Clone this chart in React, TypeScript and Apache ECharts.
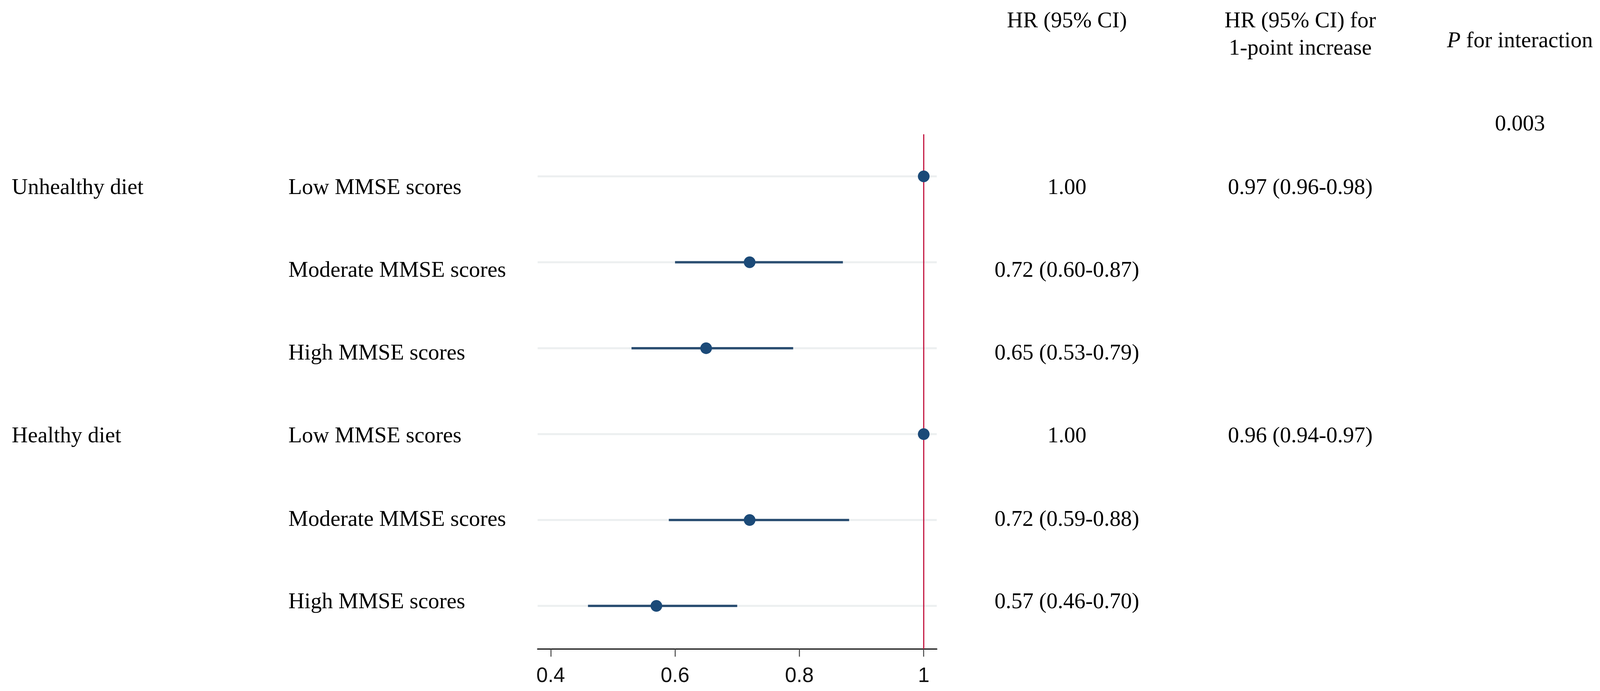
import React, { useEffect, useRef } from "react";
import * as echarts from "echarts";

// ---- data ----
const groups = ["Unhealthy diet", "Healthy diet"];
const subgroups = [
  "Low MMSE scores",
  "Moderate MMSE scores",
  "High MMSE scores",
  "Low MMSE scores",
  "Moderate MMSE scores",
  "High MMSE scores",
];
const hrValues = [1.0, 0.72, 0.65, 1.0, 0.72, 0.57];
const ciLow = [1.0, 0.6, 0.53, 1.0, 0.59, 0.46];
const ciHigh = [1.0, 0.87, 0.79, 1.0, 0.88, 0.7];
const hrText = ["1.00", "0.72 (0.60-0.87)", "0.65 (0.53-0.79)", "1.00", "0.72 (0.59-0.88)", "0.57 (0.46-0.70)"];
const perPointText = ["0.97 (0.96-0.98)", "", "", "0.96 (0.94-0.97)", "", ""];
const pInteraction = "0.003";
const xTicks = [0.4, 0.6, 0.8, 1];
const refValue = 1;

// ---- layout (reference pixel space 4217 x 1770) ----
const REF_W = 4217;
const H = 1770;
const X_MIN = 0.379;
const X_MAX = 1.021;
const Y_MIN = -0.49;
const Y_MAX = 5.5;
const SERIF = "'Liberation Serif', 'Times New Roman', serif";
const SANS = "'Liberation Sans', Arial, sans-serif";
const FS = 59;
const TICK_FS = 55;
const textRowY = [477, 689, 901, 1113, 1327, 1538];
const groupRowIdx = [0, 3];
const COL_GROUP = 31;
const COL_SUB = 760;
const COL_HR = 2812;
const COL_PP = 3427;
const COL_P = 4006;
const GRID_LEFT = 1417;
const GRID_RIGHT = 2469;
const GRID_TOP = 344;
const GRID_BOTTOM = 1662;

export default function App() {
  const ref = useRef<HTMLDivElement>(null);
  const viewW = Math.min(REF_W, typeof window !== "undefined" ? window.innerWidth || REF_W : REF_W);
  const sx = viewW / REF_W;

  useEffect(() => {
    if (!ref.current) return;
    const chart = echarts.init(ref.current, null, { renderer: "svg" });
    const fs = Math.round(FS * sx);

    const txt = (x: number, y: number, text: string, align: string) => ({
      type: "text",
      x: x * sx,
      y,
      style: {
        text,
        fill: "#000",
        fontSize: fs,
        fontFamily: SERIF,
        align,
        verticalAlign: "middle",
      },
    });

    const graphics: any[] = [];
    groups.forEach((g, i) => graphics.push(txt(COL_GROUP, textRowY[groupRowIdx[i]], g, "left")));
    subgroups.forEach((s, i) => graphics.push(txt(COL_SUB, textRowY[i], s, "left")));
    hrText.forEach((s, i) => graphics.push(txt(COL_HR, textRowY[i], s, "center")));
    perPointText.forEach((s, i) => {
      if (s) graphics.push(txt(COL_PP, textRowY[i], s, "center"));
    });
    graphics.push(txt(COL_HR, 50, "HR (95% CI)", "center"));
    graphics.push(txt(COL_PP, 50, "HR (95% CI) for", "center"));
    graphics.push(txt(COL_PP, 120, "1-point increase", "center"));
    graphics.push({
      type: "text",
      x: COL_P * sx,
      y: 101,
      style: {
        text: "{i|P} for interaction",
        fill: "#000",
        fontSize: fs,
        fontFamily: SERIF,
        align: "center",
        verticalAlign: "middle",
        rich: {
          i: { fontStyle: "italic", fontSize: fs, fontFamily: SERIF, fill: "#000" },
        },
      },
    });
    graphics.push(txt(COL_P, 314, pInteraction, "center"));

    const rowIdx = hrValues.map((_, i) => i);

    chart.setOption({
      animation: false,
      backgroundColor: "#fff",
      grid: {
        left: GRID_LEFT * sx,
        top: GRID_TOP,
        width: (GRID_RIGHT - GRID_LEFT) * sx,
        height: GRID_BOTTOM - GRID_TOP,
        containLabel: false,
      },
      xAxis: {
        type: "value",
        min: X_MIN,
        max: X_MAX,
        axisLine: { show: true, onZero: false, lineStyle: { color: "#111", width: 3 } },
        axisTick: {
          show: true,
          length: 20,
          lineStyle: { color: "#444", width: 2.5 },
          customValues: xTicks,
        },
        axisLabel: {
          show: true,
          customValues: xTicks,
          margin: 40,
          fontSize: Math.round(TICK_FS * sx),
          fontFamily: SANS,
          color: "#111",
          formatter: (v: number) => String(Math.round(v * 10) / 10),
        },
        splitLine: { show: false },
      },
      yAxis: {
        type: "value",
        min: Y_MIN,
        max: Y_MAX,
        inverse: true,
        show: false,
        splitLine: { show: false },
      },
      graphic: graphics,
      series: [
        {
          type: "custom",
          z: 1,
          silent: true,
          data: rowIdx.map((r) => [r, ciLow[r], ciHigh[r]]),
          encode: { x: [1, 2], y: 0 },
          renderItem: (params: any, api: any) => {
            const r = api.value(0);
            const a = api.coord([X_MIN, r]);
            const b = api.coord([X_MAX, r]);
            const lo = api.coord([api.value(1), r]);
            const hi = api.coord([api.value(2), r]);
            return {
              type: "group",
              children: [
                {
                  type: "line",
                  shape: { x1: a[0], y1: a[1], x2: b[0], y2: b[1] },
                  style: { stroke: "#eceff0", lineWidth: 5 },
                },
                {
                  type: "line",
                  shape: { x1: lo[0], y1: lo[1], x2: hi[0], y2: hi[1] },
                  style: { stroke: "#2c4f72", lineWidth: 6 },
                },
              ],
            };
          },
        },
        {
          type: "custom",
          z: 2,
          silent: true,
          data: [[refValue]],
          encode: { x: 0 },
          renderItem: (params: any, api: any) => {
            const t = api.coord([api.value(0), Y_MIN]);
            const b = api.coord([api.value(0), Y_MAX]);
            return {
              type: "line",
              shape: { x1: t[0], y1: t[1], x2: b[0], y2: b[1] },
              style: { stroke: "#c3143f", lineWidth: 3 },
            };
          },
        },
        {
          type: "scatter",
          z: 3,
          silent: true,
          symbol: "circle",
          symbolSize: 30,
          itemStyle: { color: "#1b4a78", opacity: 1 },
          data: rowIdx.map((r) => [hrValues[r], r]),
        },
      ],
    });

    return () => chart.dispose();
  }, []);

  return (
    <div
      ref={ref}
      style={{ position: "fixed", left: 0, top: 0, width: viewW, height: H, background: "#fff" }}
    />
  );
}
